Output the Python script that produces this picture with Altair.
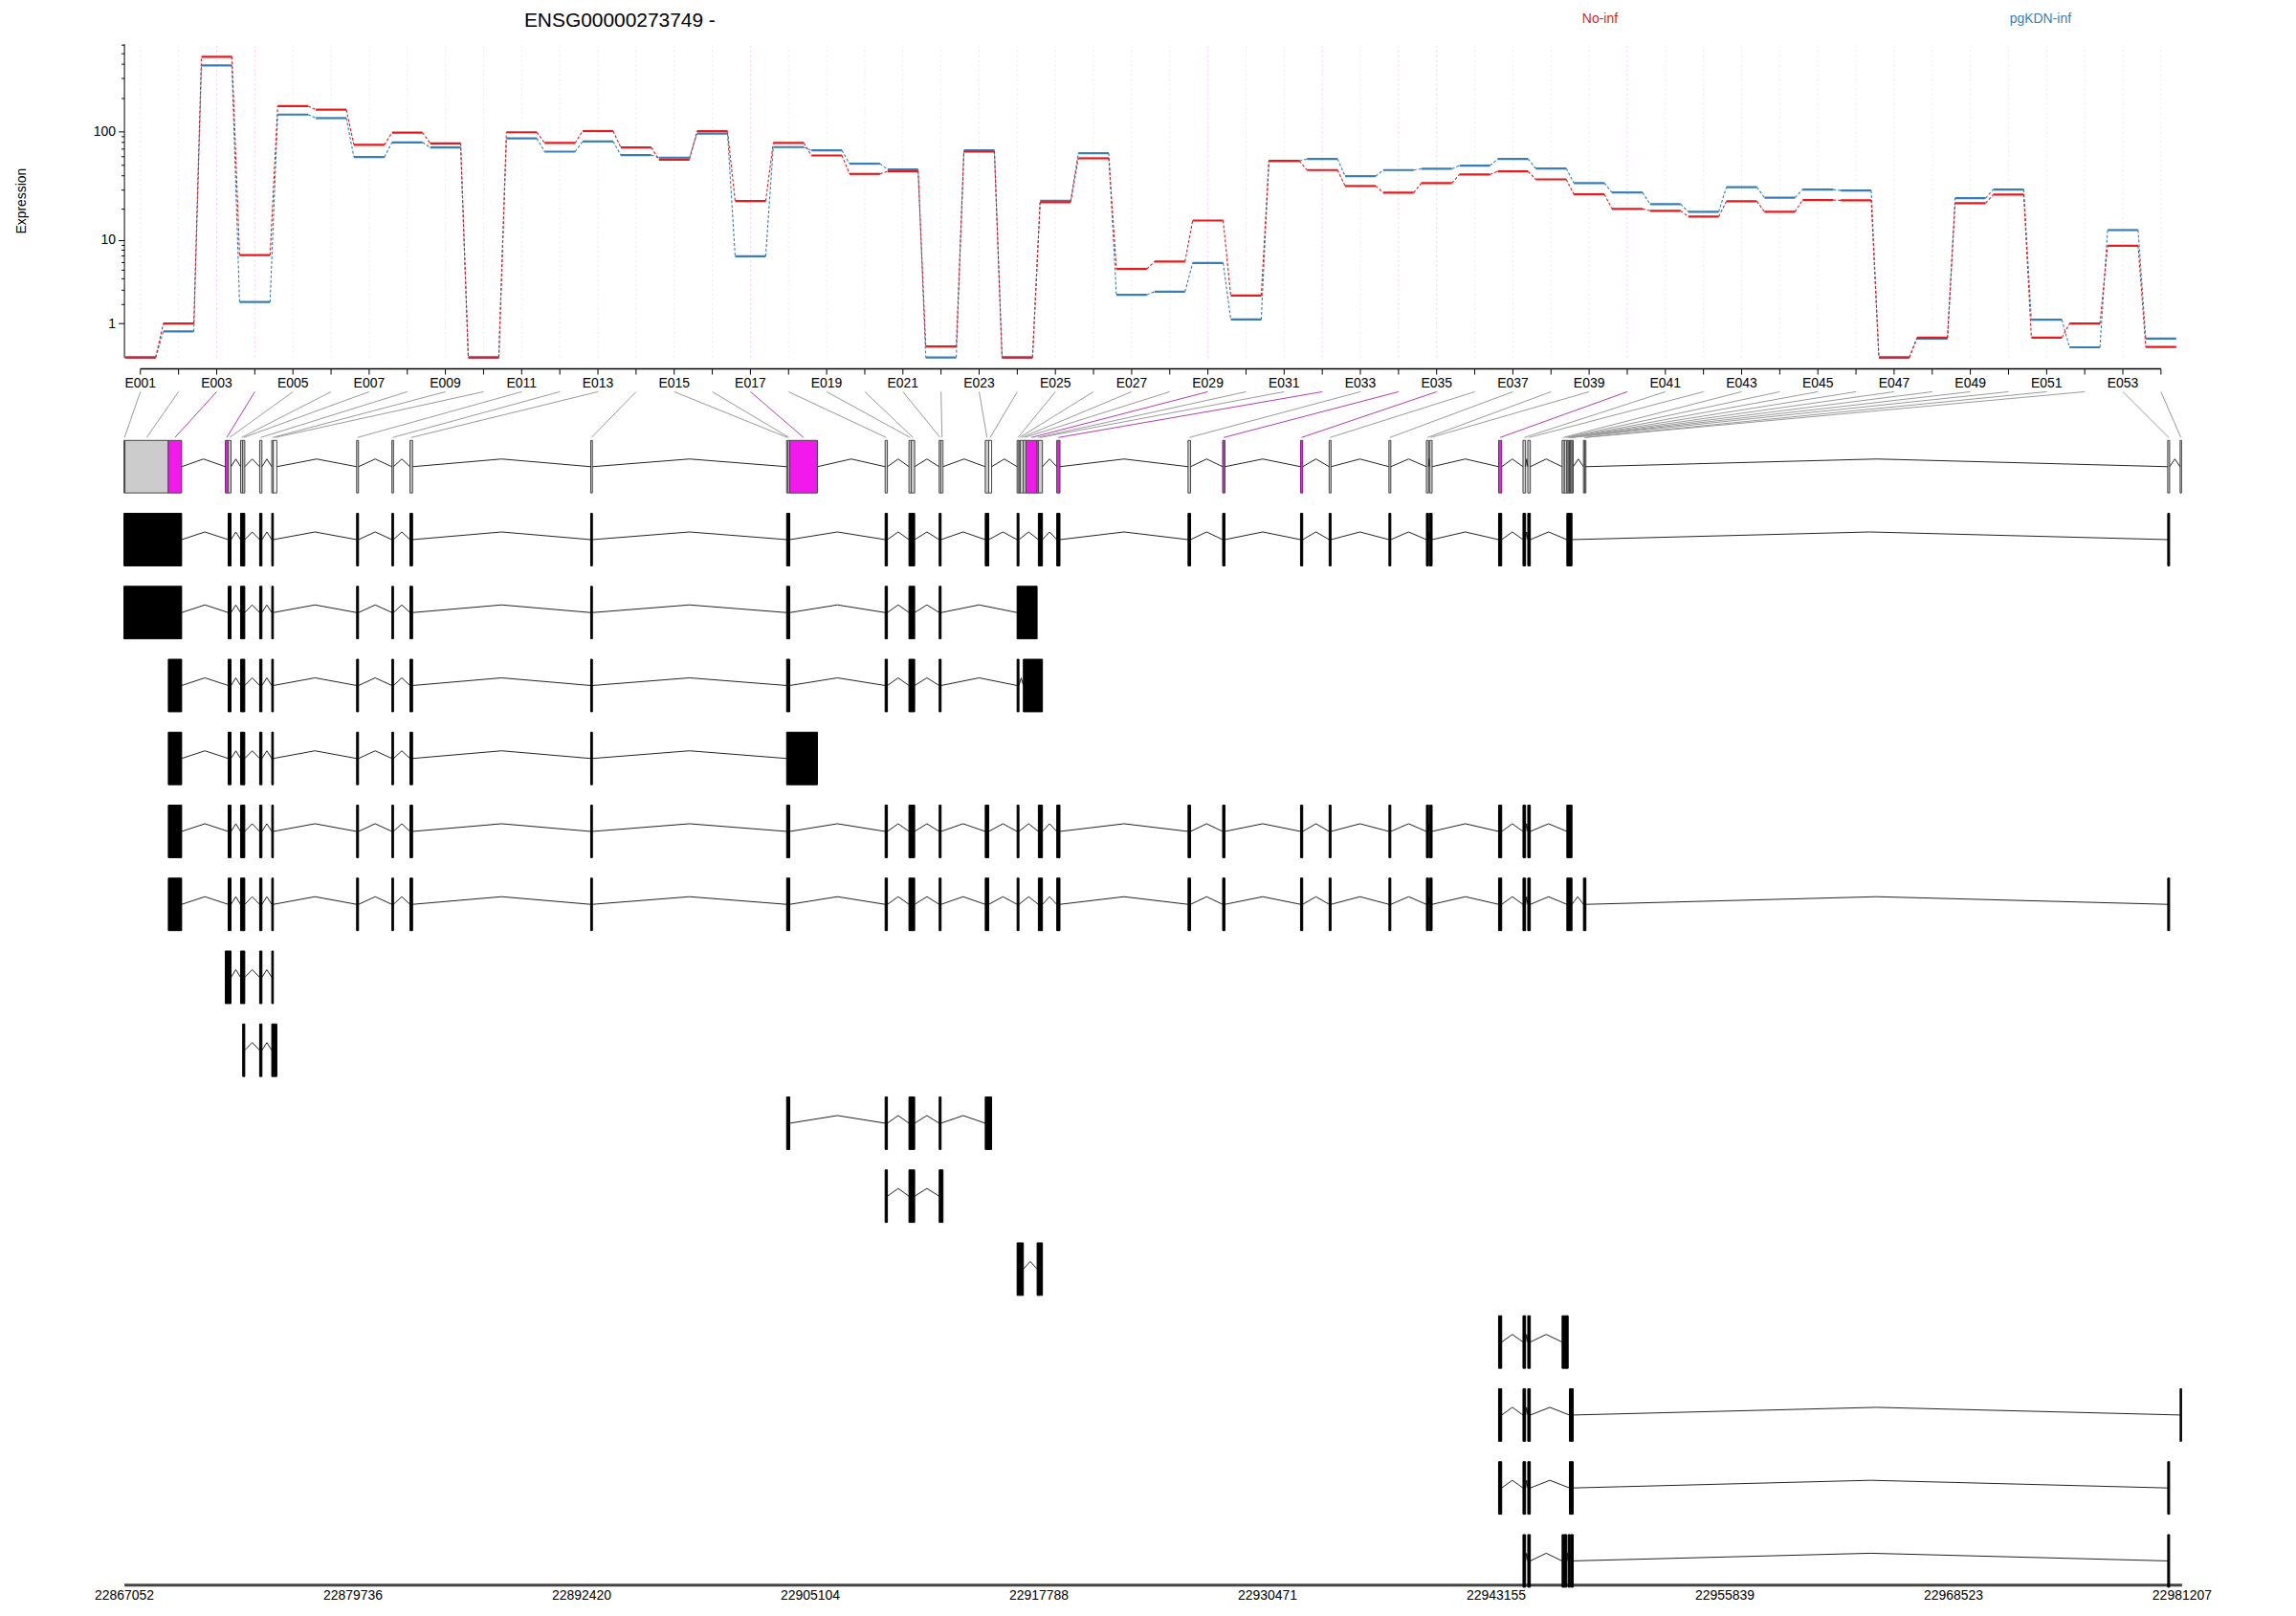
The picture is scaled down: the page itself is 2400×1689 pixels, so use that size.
import altair as alt
import pandas as pd
import numpy as np

FONT = "Liberation Sans"
GENE_TITLE = "ENSG00000273749 -"
CONDITIONS = ["No-inf", "pgKDN-inf"]
COND_COLORS = ["#E41A1C", "#377EB8"]
G_START, G_END = 22867052, 22981207
GENOMIC_TICKS = [22867052, 22879736, 22892420, 22905104, 22917788,
                 22930471, 22943155, 22955839, 22968523, 22981207]
EXPR_TICKS = [1, 2, 3, 4, 5, 6, 7, 8, 9, 10, 20, 30, 40, 50, 60, 70, 80, 90,
              100, 200, 300, 400, 500, 600]
EXPR_MAX = 607

EXON_IDS = [f"E{i:03d}" for i in range(1, 55)]
EXPR_NOINF = [0, 1.0, 465, 7.1, 169, 157, 76, 98, 78.4, 0,
              98.6, 79, 101, 72, 56, 100.6, 23.4, 79, 61, 41.5,
              43.8, 0.25, 66, 0, 22.8, 57.5, 5.1, 6.1, 15.4, 2.54,
              54.5, 45, 32.2, 28, 34.3, 41, 43.8, 37, 27, 19.8,
              19, 16.8, 23.3, 18.6, 23.9, 23.8, 0, 0.5, 22.4, 26.9,
              0.5, 1.0, 8.8, 0.24]
EXPR_PGKDN = [0, 0.70, 389, 2.1, 142, 132, 59, 80, 72, 0,
              87, 66, 81.6, 61.4, 58.3, 96, 6.9, 72.5, 67.8, 51.4,
              45.5, 0, 67.8, 0, 23.6, 63.9, 2.6, 2.83, 5.9, 1.17,
              54.5, 56.7, 39.6, 45, 46.2, 49.4, 56.7, 46.5, 34.3, 28.1,
              21.9, 18.6, 31.4, 25.2, 29.9, 29.3, 0, 0.47, 24.9, 29.9,
              1.16, 0.23, 12.5, 0.47]
SIGNIFICANT = ["E003", "E004", "E017", "E029", "E032", "E034", "E035", "E040"]

BIN_START = [22867052, 22867105, 22869512, 22872675, 22872834, 22873521, 22873638, 22874579, 22875251, 22875341,
             22879959, 22881916, 22882921, 22892946, 22903816, 22903895, 22903991, 22909280, 22910603, 22910730,
             22912280, 22912386, 22914835, 22915030, 22916602, 22916707, 22916776, 22916951, 22917094, 22917713,
             22917781, 22918802, 22926086, 22928006, 22932328, 22933915, 22937232, 22939311, 22939485, 22943315,
             22944669, 22944934, 22946838, 22946965, 22947103, 22947177, 22947246, 22947283, 22947315, 22947389,
             22948023, 22948092, 22980439, 22981127]
BIN_END = [22867105, 22869512, 22870252, 22872834, 22872992, 22873638, 22873754, 22874706, 22875341, 22875532,
           22880065, 22882006, 22883064, 22893041, 22903895, 22903991, 22905525, 22909407, 22910730, 22910920,
           22912386, 22912491, 22915030, 22915189, 22916707, 22916776, 22916951, 22917094, 22917713, 22917781,
           22918009, 22918982, 22926229, 22928133, 22932450, 22934021, 22937338, 22939432, 22939628, 22943490,
           22944812, 22945077, 22946965, 22947103, 22947177, 22947246, 22947283, 22947315, 22947389, 22947457,
           22948092, 22948161, 22980545, 22981207]

# transcripts: exons given as (first bin, last bin)
TRANSCRIPTS = [
    [(1, 3), (5, 5), (6, 7), (8, 8), (9, 9), (11, 11), (12, 12), (13, 13), (14, 14), (15, 16), (18, 18),
     (19, 20), (21, 21), (23, 23), (25, 25), (31, 31), (32, 32), (33, 33), (34, 34), (35, 35), (36, 36),
     (37, 37), (38, 38), (39, 39), (40, 40), (41, 41), (42, 42), (45, 49), (53, 53)],
    [(1, 3), (5, 5), (6, 7), (8, 8), (9, 9), (11, 11), (12, 12), (13, 13), (14, 14), (15, 16), (18, 18),
     (19, 20), (21, 21), (25, 29)],
    [(3, 3), (5, 5), (6, 7), (8, 8), (9, 9), (11, 11), (12, 12), (13, 13), (14, 14), (15, 16), (18, 18),
     (19, 20), (21, 21), (25, 25), (28, 31)],
    [(3, 3), (5, 5), (6, 7), (8, 8), (9, 9), (11, 11), (12, 12), (13, 13), (14, 14), (15, 17)],
    [(3, 3), (5, 5), (6, 7), (8, 8), (9, 9), (11, 11), (12, 12), (13, 13), (14, 14), (15, 16), (18, 18),
     (19, 20), (21, 21), (23, 23), (25, 25), (31, 31), (32, 32), (33, 33), (34, 34), (35, 35), (36, 36),
     (37, 37), (38, 38), (39, 39), (40, 40), (41, 41), (42, 42), (45, 49)],
    [(3, 3), (5, 5), (6, 7), (8, 8), (9, 9), (11, 11), (12, 12), (13, 13), (14, 14), (15, 16), (18, 18),
     (19, 20), (21, 21), (23, 23), (25, 25), (31, 31), (32, 32), (33, 33), (34, 34), (35, 35), (36, 36),
     (37, 37), (38, 38), (39, 39), (40, 40), (41, 41), (42, 42), (45, 49), (51, 52), (53, 53)],
    [(4, 5), (6, 7), (8, 8), (9, 9)],
    [(7, 7), (8, 8), (9, 10)],
    [(15, 16), (18, 18), (19, 20), (21, 21), (23, 24)],
    [(18, 18), (19, 20), (21, 22)],
    [(25, 27), (30, 31)],
    [(40, 40), (41, 41), (42, 42), (43, 45)],
    [(40, 40), (41, 41), (42, 42), (47, 50), (54, 54)],
    [(40, 40), (41, 41), (42, 42), (47, 50), (53, 53)],
    [(41, 41), (42, 42), (43, 44), (46, 47), (49, 50), (53, 53)],
]

# ---------------- derived tables ----------------
n = len(EXON_IDS)
span = G_END - G_START
pos = np.linspace(G_START + 0.008 * span, G_START + 0.990 * span, n)
half = 0.4 * (pos[1] - pos[0])
sig = [e in SIGNIFICANT for e in EXON_IDS]

seg_rows, dash_rows = [], []
for cond, vals in [("pgKDN-inf", EXPR_PGKDN), ("No-inf", EXPR_NOINF)]:
    for i in range(n):
        seg_rows.append(dict(cond=cond, exon=EXON_IDS[i], x=pos[i] - half, x2=pos[i] + half, v=vals[i]))
        if i < n - 1:
            dash_rows.append(dict(cond=cond, x=pos[i] + half, x2=pos[i + 1] - half, v=vals[i], v2=vals[i + 1]))
seg_df = pd.DataFrame(seg_rows)
dash_df = pd.DataFrame(dash_rows)
grid_df = pd.DataFrame(dict(x=pos, v=0.0, v2=float(EXPR_MAX),
                            col=["#F219ED" if s else "#AAAAAA" for s in sig]))

XS = alt.Scale(domain=[G_START, G_END], nice=False, zero=False)
XAXIS = alt.Axis(
    orient="bottom", values=GENOMIC_TICKS, format="d", title=None, grid=False, ticks=False,
    domainWidth=3, domainColor="#444444", labelFont=FONT, labelFontSize=14,
    labelColor="#000", labelPadding=4, labelOverlap=False, labelFlush=False)
YE = alt.Scale(type="symlog", domain=[0, EXPR_MAX], range=[329, 0], nice=False, zero=False)
YR = alt.Scale(domain=[0, 16], range=[416, 1640], nice=False, zero=False)
CS = alt.Scale(domain=CONDITIONS, range=COND_COLORS)


def X(field):
    return alt.X(field, type="quantitative", scale=XS, axis=XAXIS)


major = "datum.value == 1 || datum.value == 10 || datum.value == 100"
ye = alt.Y("v:Q", scale=YE, axis=None)

grid = alt.Chart(grid_df).mark_rule(strokeDash=[2, 3], strokeWidth=1, opacity=0.25).encode(
    x=X("x"), y=ye, y2="v2:Q", color=alt.Color("col:N", scale=None))
dashes = alt.Chart(dash_df).mark_rule(strokeDash=[3, 2], strokeWidth=1.1).encode(
    x=X("x"), x2="x2:Q", y=ye, y2="v2:Q",
    color=alt.Color("cond:N", scale=CS, legend=None))
segs = alt.Chart(seg_df).mark_rule(strokeWidth=2.2).encode(
    x=X("x"), x2="x2:Q",
    y=alt.Y("v:Q", scale=YE, axis=alt.Axis(
        orient="left", values=EXPR_TICKS, labelExpr=f"({major}) ? datum.label : ''", format="d",
        tickSize={"condition": {"test": major, "value": 6}, "value": 3},
        grid=False, domainColor="#000", tickColor="#000", labelColor="#000",
        labelFontSize=14, labelFont=FONT, labelPadding=3,
        title="Expression", titleFont=FONT, titleFontSize=14, titleFontWeight="normal",
        titlePadding=68, titleColor="#000")),
    color=alt.Color("cond:N", scale=CS, legend=None))

# ---------------- gene model ----------------
BOX_H = 0.72
MID = 0.36
PEAK = 0.255

bin_fill = []
for i in range(n):
    if sig[i]:
        bin_fill.append("#F219ED")
    elif EXPR_NOINF[i] + EXPR_PGKDN[i] < 0.5:
        bin_fill.append("#FFFFFF")
    else:
        bin_fill.append("#CCCCCC")
bins_df = pd.DataFrame(dict(x=BIN_START, e=BIN_END, r=0.0, r2=BOX_H, fill=bin_fill))


def intron_rows(exons, row):
    out = []
    exons = sorted(exons)
    for (s1, e1), (s2, e2) in zip(exons[:-1], exons[1:]):
        if s2 > e1:
            m = (e1 + s2) / 2
            out.append(dict(x=e1, x2=m, y=row + MID, y2=row + PEAK))
            out.append(dict(x=m, x2=s2, y=row + PEAK, y2=row + MID))
    return out


intr = intron_rows(list(zip(BIN_START, BIN_END)), 0)
tx_rows = []
for k, tx in enumerate(TRANSCRIPTS, start=1):
    ex = [(BIN_START[a - 1], BIN_END[b - 1]) for a, b in tx]
    for s, e in ex:
        tx_rows.append(dict(x=s, e=e, r=k, r2=k + BOX_H))
    intr += intron_rows(ex, k)
tx_df = pd.DataFrame(tx_rows)
intr_df = pd.DataFrame(intr)

centers = [(a + b) / 2 for a, b in zip(BIN_START, BIN_END)]
conn_df = pd.DataFrame(dict(x=pos, x2=centers, y=-0.667, y2=-0.04,
                            col=["#B43CB4" if s else "#9A9A9A" for s in sig]))
tick_df = pd.DataFrame(dict(x=pos, y=-0.98, y2=-0.902))
axisline_df = pd.DataFrame(dict(x=[pos[0]], x2=[pos[-1]], y=[-0.98]))
lab_df = pd.DataFrame(dict(x=pos[::2], y=-0.778, t=EXON_IDS[::2]))

yr = alt.Y("y:Q", scale=YR, axis=None)

exon_axis = alt.Chart(axisline_df).mark_rule(color="#000", strokeWidth=1.5).encode(
    x=X("x"), x2="x2:Q", y=yr)
exon_ticks = alt.Chart(tick_df).mark_rule(color="#000", strokeWidth=1).encode(
    x=X("x"), y=yr, y2="y2:Q")
exon_labels = alt.Chart(lab_df).mark_text(font=FONT, fontSize=14, baseline="middle", color="#000").encode(
    x=X("x"), y=yr, text="t:N")
connectors = alt.Chart(conn_df).mark_rule(strokeWidth=1).encode(
    x=X("x"), x2="x2:Q", y=yr, y2="y2:Q", color=alt.Color("col:N", scale=None))
bins = alt.Chart(bins_df).mark_rect(stroke="#444444", strokeWidth=1).encode(
    x=X("x"), x2="e:Q",
    y=alt.Y("r:Q", scale=YR, axis=None), y2="r2:Q",
    fill=alt.Fill("fill:N", scale=None))
txs = alt.Chart(tx_df).mark_rect(color="#000", stroke="#000", strokeWidth=1).encode(
    x=X("x"), x2="e:Q",
    y=alt.Y("r:Q", scale=YR, axis=None), y2="r2:Q")
introns = alt.Chart(intr_df).mark_rule(color="#222", strokeWidth=1).encode(
    x=X("x"), x2="x2:Q", y=yr, y2="y2:Q")

ann_df = pd.DataFrame(dict(t=[GENE_TITLE]))
title_txt = alt.Chart(ann_df).mark_text(font=FONT, fontSize=21, color="#000", baseline="middle").encode(
    x=alt.value(520), y=alt.value(-24), text="t:N")
leg1 = alt.Chart(pd.DataFrame(dict(t=[CONDITIONS[0]]))).mark_text(
    font=FONT, fontSize=14, color=COND_COLORS[0], baseline="middle").encode(
    x=alt.value(1548), y=alt.value(-26), text="t:N")
leg2 = alt.Chart(pd.DataFrame(dict(t=[CONDITIONS[1]]))).mark_text(
    font=FONT, fontSize=14, color=COND_COLORS[1], baseline="middle").encode(
    x=alt.value(2010), y=alt.value(-26), text="t:N")

chart = alt.layer(
    grid, dashes, segs,
    bins, introns, txs, connectors, exon_axis, exon_ticks, exon_labels,
    title_txt, leg1, leg2,
).resolve_scale(y="independent").properties(
    width=2158, height=1616,
    autosize=alt.AutoSizeParams(type="none"),
    padding={"left": 122, "top": 35, "right": 112, "bottom": 30},
).configure(font=FONT).configure_view(strokeWidth=0)

chart.save("out.html", embed_options={"renderer": "svg", "actions": False})
